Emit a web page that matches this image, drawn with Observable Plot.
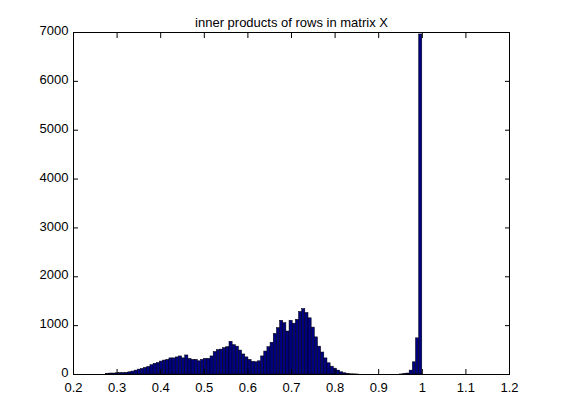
<!DOCTYPE html>
<html><head><meta charset="utf-8">
<script src="https://cdn.jsdelivr.net/npm/d3@7"></script>
<script src="https://cdn.jsdelivr.net/npm/@observablehq/plot@0.6"></script>
<style>
html,body{margin:0;padding:0;background:#fff;}
#chart svg{display:block}
</style>
</head><body><div id="chart"></div>
<script>
const title = "inner products of rows in matrix X";
const binStart = 0.275;
const binWidth = 0.00725;
const counts = [
  15, 20, 20, 25, 30, 30, 35, 45, 60, 80,
  100, 115, 135, 155, 190, 220, 235, 265, 285, 300,
  330, 330, 350, 370, 330, 390, 320, 300, 300, 270,
  300, 320, 320, 370, 460, 500, 510, 540, 560, 670,
  600, 570, 490, 410, 350, 300, 260, 250, 270, 370,
  470, 560, 650, 830, 950, 1100, 1050, 880, 1100, 1040,
  1120, 1280, 1340, 1260, 1150, 960, 760, 570, 450, 330,
  230, 160, 120, 80, 45, 25, 10, 5, 3, 1,
  0, 0, 0, 0, 0, 0, 0, 0, 0, 0,
  0, 0, 0, 2, 10, 20, 80, 250, 740, 6960
];
const xTicks = [0.2, 0.3, 0.4, 0.5, 0.6, 0.7, 0.8, 0.9, 1, 1.1, 1.2];
const yTicks = [0, 1000, 2000, 3000, 4000, 5000, 6000, 7000];

const bins = counts.map((c, i) => ({
  x1: binStart + i * binWidth,
  x2: binStart + (i + 1) * binWidth,
  count: c
}));

const chart = Plot.plot({
  width: 561, height: 420,
  marginLeft: 73, marginRight: 52, marginTop: 32, marginBottom: 46,
  x: {domain: [0.2, 1.2]},
  y: {domain: [0, 7000]},
  style: {fontFamily: "'Liberation Sans', Arial, Helvetica, sans-serif", fontSize: "13px", background: "#fff", color: "#000"},
  marks: [
    Plot.rectY(bins, {x1: "x1", x2: "x2", y: "count", fill: "#000080", stroke: "#000", strokeWidth: 0.5}),
    Plot.frame({stroke: "#000"}),
    Plot.axisX(xTicks, {anchor: "bottom", tickSize: 0, tickPadding: 8, tickFormat: d => String(d), label: null}),
    Plot.axisX(xTicks, {anchor: "bottom", tickSize: -5, fill: "none", label: null}),
    Plot.axisX(xTicks, {anchor: "top", tickSize: -5, fill: "none", label: null}),
    Plot.axisY(yTicks, {anchor: "left", tickSize: 0, tickPadding: 5, dy: -1.5, tickFormat: d => String(d), label: null}),
    Plot.axisY(yTicks, {anchor: "left", tickSize: -5, fill: "none", label: null}),
    Plot.axisY(yTicks, {anchor: "right", tickSize: -5, fill: "none", label: null}),
    Plot.text([title], {frameAnchor: "top", dy: -15, text: d => d, fontSize: 13})
  ]
});
document.getElementById("chart").appendChild(chart);
</script>
</body></html>
